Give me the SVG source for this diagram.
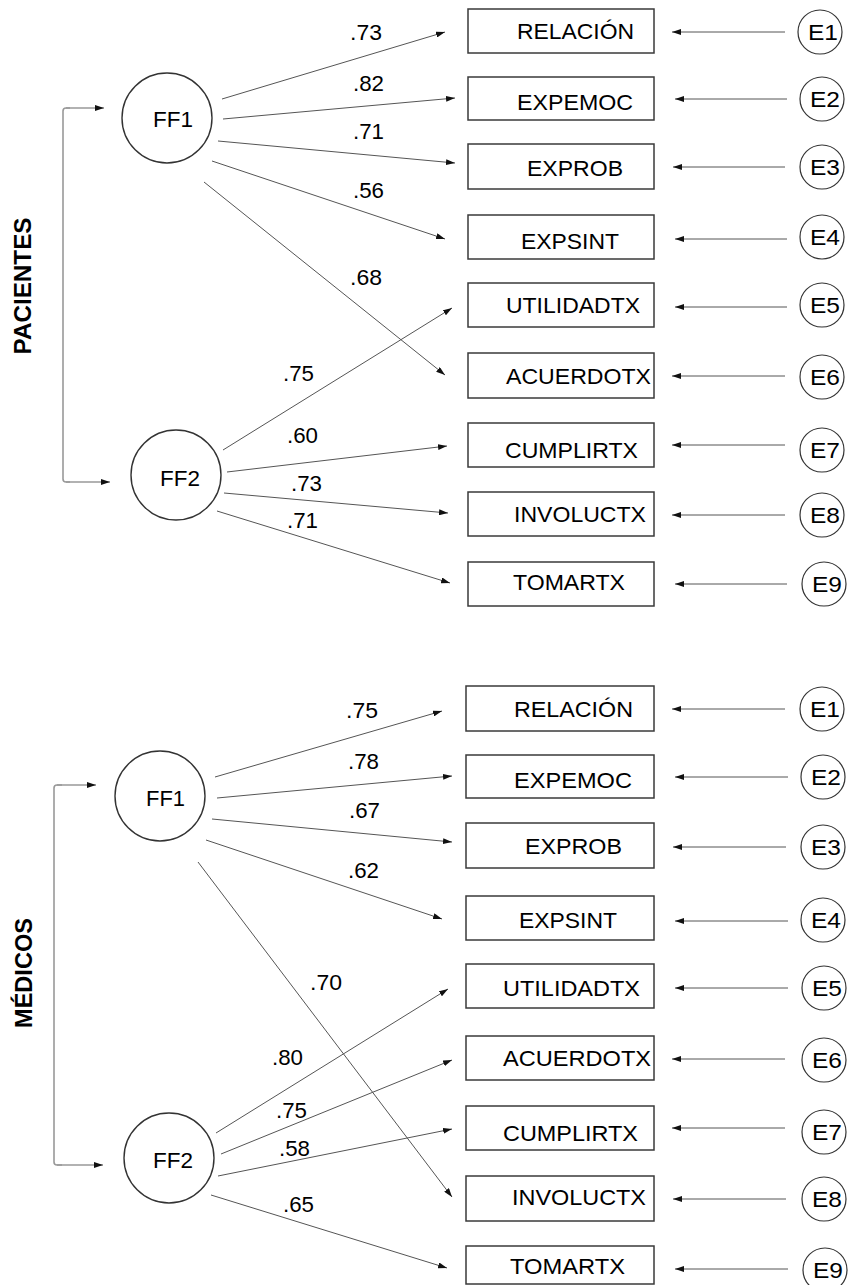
<svg xmlns="http://www.w3.org/2000/svg" width="848" height="1285" viewBox="0 0 848 1285">
<style>
  text { font-family: "Liberation Sans", Arial, sans-serif; fill: #000; }
  .box { fill: #fff; stroke: #3a3a3a; stroke-width: 1.5; }
  .lat { fill: #fff; stroke: #333; stroke-width: 1.4; }
  .err { fill: #fff; stroke: #333; stroke-width: 1.2; }
  .bt { font-size: 22px; }
  .ft { font-size: 22px; }
  .et { font-size: 22px; }
  .val { font-size: 22px; }
  .grp { font-size: 24px; font-weight: bold; text-anchor: middle; }
  .c { fill: none; stroke: #555; stroke-width: 1; marker-end: url(#ah); }
  .br { fill: none; stroke: #999; stroke-width: 1.6; }
  .bra { fill: none; stroke: #999; stroke-width: 1.6; marker-end: url(#ah); }
</style>
<defs>
  <marker id="ah" markerUnits="userSpaceOnUse" markerWidth="9" markerHeight="6" refX="9" refY="3" orient="auto">
    <path d="M0,0 L9,3 L0,6 z" fill="#111"/>
  </marker>
</defs>
<rect width="848" height="1285" fill="#fff"/>

<g id="connectors">
  <!-- PACIENTES bracket -->
  <path class="br" d="M63,300 L63,111 Q63,108 66,108 L70,108"/>
  <path class="bra" d="M66,108 L104,108"/>
  <path class="br" d="M63,300 L63,479 Q63,482 66,482 L70,482"/>
  <path class="bra" d="M66,482 L110,482"/>
  <!-- PACIENTES loadings -->
  <line class="c" x1="222" y1="99" x2="445" y2="32"/>
  <line class="c" x1="223" y1="119" x2="455" y2="98"/>
  <line class="c" x1="218" y1="141" x2="455" y2="163"/>
  <line class="c" x1="212" y1="161" x2="445" y2="239"/>
  <line class="c" x1="204" y1="182" x2="445" y2="375"/>
  <line class="c" x1="223" y1="450" x2="452" y2="308"/>
  <line class="c" x1="227" y1="472" x2="447" y2="446"/>
  <line class="c" x1="224" y1="493" x2="448" y2="513"/>
  <line class="c" x1="217" y1="511" x2="450" y2="583"/>
  <!-- PACIENTES errors -->
  <line class="c" x1="785" y1="32" x2="672" y2="32"/>
  <line class="c" x1="787" y1="99" x2="675" y2="99"/>
  <line class="c" x1="785" y1="167" x2="673" y2="167"/>
  <line class="c" x1="787" y1="239" x2="675" y2="239"/>
  <line class="c" x1="787" y1="307" x2="675" y2="307"/>
  <line class="c" x1="785" y1="376" x2="672" y2="376"/>
  <line class="c" x1="785" y1="445" x2="672" y2="445"/>
  <line class="c" x1="785" y1="515" x2="672" y2="515"/>
  <line class="c" x1="787" y1="584" x2="675" y2="584"/>

  <!-- MÉDICOS bracket -->
  <path class="br" d="M54,975 L54,788 Q54,785 57,785 L62,785"/>
  <path class="bra" d="M57,785 L96,785"/>
  <path class="br" d="M54,975 L54,1162 Q54,1165 57,1165 L62,1165"/>
  <path class="bra" d="M57,1165 L103,1165"/>
  <!-- MÉDICOS loadings -->
  <line class="c" x1="215" y1="777" x2="442" y2="711"/>
  <line class="c" x1="217" y1="798" x2="452" y2="776"/>
  <line class="c" x1="212" y1="819" x2="452" y2="842"/>
  <line class="c" x1="206" y1="840" x2="442" y2="919"/>
  <line class="c" x1="198" y1="862" x2="452" y2="1197"/>
  <line class="c" x1="216" y1="1133" x2="448" y2="989"/>
  <line class="c" x1="221" y1="1154" x2="452" y2="1060"/>
  <line class="c" x1="218" y1="1176" x2="452" y2="1129"/>
  <line class="c" x1="211" y1="1195" x2="447" y2="1268"/>
  <!-- MÉDICOS errors -->
  <line class="c" x1="785" y1="709" x2="672" y2="709"/>
  <line class="c" x1="788" y1="777" x2="675" y2="777"/>
  <line class="c" x1="786" y1="847" x2="673" y2="847"/>
  <line class="c" x1="788" y1="921" x2="675" y2="921"/>
  <line class="c" x1="788" y1="988" x2="675" y2="988"/>
  <line class="c" x1="785" y1="1059" x2="672" y2="1059"/>
  <line class="c" x1="785" y1="1128" x2="672" y2="1128"/>
  <line class="c" x1="786" y1="1199" x2="673" y2="1199"/>
  <line class="c" x1="788" y1="1269" x2="675" y2="1269"/>
</g>

<g id="labels">
  <text class="val" x="350" y="40" textLength="32" lengthAdjust="spacingAndGlyphs">.73</text>
  <text class="val" x="353" y="91" textLength="31" lengthAdjust="spacingAndGlyphs">.82</text>
  <text class="val" x="353" y="139" textLength="31" lengthAdjust="spacingAndGlyphs">.71</text>
  <text class="val" x="353" y="198" textLength="31" lengthAdjust="spacingAndGlyphs">.56</text>
  <text class="val" x="350" y="285" textLength="32" lengthAdjust="spacingAndGlyphs">.68</text>
  <text class="val" x="283" y="381" textLength="31" lengthAdjust="spacingAndGlyphs">.75</text>
  <text class="val" x="287" y="443" textLength="31" lengthAdjust="spacingAndGlyphs">.60</text>
  <text class="val" x="291" y="491" textLength="31" lengthAdjust="spacingAndGlyphs">.73</text>
  <text class="val" x="287" y="528" textLength="31" lengthAdjust="spacingAndGlyphs">.71</text>

  <text class="val" x="346" y="718" textLength="32" lengthAdjust="spacingAndGlyphs">.75</text>
  <text class="val" x="348" y="769" textLength="31" lengthAdjust="spacingAndGlyphs">.78</text>
  <text class="val" x="349" y="818" textLength="31" lengthAdjust="spacingAndGlyphs">.67</text>
  <text class="val" x="348" y="878" textLength="31" lengthAdjust="spacingAndGlyphs">.62</text>
  <text class="val" x="310" y="990" textLength="32" lengthAdjust="spacingAndGlyphs">.70</text>
  <text class="val" x="272" y="1065" textLength="31" lengthAdjust="spacingAndGlyphs">.80</text>
  <text class="val" x="276" y="1118" textLength="31" lengthAdjust="spacingAndGlyphs">.75</text>
  <text class="val" x="279" y="1156" textLength="31" lengthAdjust="spacingAndGlyphs">.58</text>
  <text class="val" x="283" y="1212" textLength="31" lengthAdjust="spacingAndGlyphs">.65</text>

  <text class="grp" transform="translate(31,286) rotate(-90)" textLength="137" lengthAdjust="spacingAndGlyphs">PACIENTES</text>
  <text class="grp" transform="translate(32,973) rotate(-90)" textLength="110" lengthAdjust="spacingAndGlyphs">MÉDICOS</text>
</g>

<!-- PACIENTES nodes -->
<g id="p-ff1"><circle class="lat" cx="167" cy="118" r="45"/><text class="ft" x="153" y="127" textLength="40" lengthAdjust="spacingAndGlyphs">FF1</text></g>
<g id="p-ff2"><circle class="lat" cx="176" cy="475" r="45"/><text class="ft" x="160" y="486" textLength="40" lengthAdjust="spacingAndGlyphs">FF2</text></g>

<g id="p-relacion"><rect class="box" x="468" y="9" width="186" height="44"/><text class="bt" x="517" y="39" textLength="117" lengthAdjust="spacingAndGlyphs">RELACIÓN</text></g>
<g id="p-expemoc"><rect class="box" x="468" y="77" width="186" height="43"/><text class="bt" x="517" y="110" textLength="116" lengthAdjust="spacingAndGlyphs">EXPEMOC</text></g>
<g id="p-exprob"><rect class="box" x="468" y="144" width="186" height="45"/><text class="bt" x="527" y="176" textLength="96" lengthAdjust="spacingAndGlyphs">EXPROB</text></g>
<g id="p-expsint"><rect class="box" x="468" y="215" width="186" height="44"/><text class="bt" x="521" y="249" textLength="98" lengthAdjust="spacingAndGlyphs">EXPSINT</text></g>
<g id="p-utilidadtx"><rect class="box" x="468" y="283" width="186" height="44"/><text class="bt" x="506" y="313" textLength="134" lengthAdjust="spacingAndGlyphs">UTILIDADTX</text></g>
<g id="p-acuerdotx"><rect class="box" x="468" y="353" width="186" height="45"/><text class="bt" x="506" y="384" textLength="145" lengthAdjust="spacingAndGlyphs">ACUERDOTX</text></g>
<g id="p-cumplirtx"><rect class="box" x="468" y="423" width="186" height="44"/><text class="bt" x="505" y="458" textLength="133" lengthAdjust="spacingAndGlyphs">CUMPLIRTX</text></g>
<g id="p-involuctx"><rect class="box" x="468" y="492" width="186" height="44"/><text class="bt" x="514" y="522" textLength="132" lengthAdjust="spacingAndGlyphs">INVOLUCTX</text></g>
<g id="p-tomartx"><rect class="box" x="468" y="562" width="186" height="44"/><text class="bt" x="513" y="590" textLength="112" lengthAdjust="spacingAndGlyphs">TOMARTX</text></g>

<g id="p-e1"><circle class="err" cx="820" cy="32" r="22"/><text class="et" x="808" y="40" textLength="30" lengthAdjust="spacingAndGlyphs">E1</text></g>
<g id="p-e2"><circle class="err" cx="822" cy="99" r="22"/><text class="et" x="810" y="107" textLength="30" lengthAdjust="spacingAndGlyphs">E2</text></g>
<g id="p-e3"><circle class="err" cx="822" cy="167" r="22"/><text class="et" x="810" y="175" textLength="30" lengthAdjust="spacingAndGlyphs">E3</text></g>
<g id="p-e4"><circle class="err" cx="822" cy="237" r="22"/><text class="et" x="810" y="245" textLength="30" lengthAdjust="spacingAndGlyphs">E4</text></g>
<g id="p-e5"><circle class="err" cx="822" cy="305" r="22"/><text class="et" x="810" y="313" textLength="30" lengthAdjust="spacingAndGlyphs">E5</text></g>
<g id="p-e6"><circle class="err" cx="822" cy="377" r="22"/><text class="et" x="810" y="385" textLength="30" lengthAdjust="spacingAndGlyphs">E6</text></g>
<g id="p-e7"><circle class="err" cx="822" cy="450" r="22"/><text class="et" x="810" y="458" textLength="30" lengthAdjust="spacingAndGlyphs">E7</text></g>
<g id="p-e8"><circle class="err" cx="822" cy="515" r="22"/><text class="et" x="810" y="523" textLength="30" lengthAdjust="spacingAndGlyphs">E8</text></g>
<g id="p-e9"><circle class="err" cx="824" cy="584" r="22"/><text class="et" x="812" y="592" textLength="30" lengthAdjust="spacingAndGlyphs">E9</text></g>

<!-- MÉDICOS nodes -->
<g id="m-ff1"><circle class="lat" cx="160" cy="796" r="45"/><text class="ft" x="146" y="806" textLength="39" lengthAdjust="spacingAndGlyphs">FF1</text></g>
<g id="m-ff2"><circle class="lat" cx="169" cy="1158" r="45"/><text class="ft" x="153" y="1168" textLength="40" lengthAdjust="spacingAndGlyphs">FF2</text></g>

<g id="m-relacion"><rect class="box" x="466" y="686" width="188" height="45"/><text class="bt" x="514" y="717" textLength="119" lengthAdjust="spacingAndGlyphs">RELACIÓN</text></g>
<g id="m-expemoc"><rect class="box" x="466" y="755" width="188" height="43"/><text class="bt" x="514" y="788" textLength="118" lengthAdjust="spacingAndGlyphs">EXPEMOC</text></g>
<g id="m-exprob"><rect class="box" x="466" y="823" width="188" height="45"/><text class="bt" x="525" y="854" textLength="97" lengthAdjust="spacingAndGlyphs">EXPROB</text></g>
<g id="m-expsint"><rect class="box" x="466" y="896" width="188" height="44"/><text class="bt" x="519" y="928" textLength="98" lengthAdjust="spacingAndGlyphs">EXPSINT</text></g>
<g id="m-utilidadtx"><rect class="box" x="466" y="964" width="188" height="44"/><text class="bt" x="503" y="996" textLength="137" lengthAdjust="spacingAndGlyphs">UTILIDADTX</text></g>
<g id="m-acuerdotx"><rect class="box" x="466" y="1036" width="188" height="44"/><text class="bt" x="503" y="1066" textLength="148" lengthAdjust="spacingAndGlyphs">ACUERDOTX</text></g>
<g id="m-cumplirtx"><rect class="box" x="466" y="1106" width="188" height="44"/><text class="bt" x="503" y="1141" textLength="135" lengthAdjust="spacingAndGlyphs">CUMPLIRTX</text></g>
<g id="m-involuctx"><rect class="box" x="466" y="1176" width="188" height="45"/><text class="bt" x="512" y="1205" textLength="134" lengthAdjust="spacingAndGlyphs">INVOLUCTX</text></g>
<g id="m-tomartx"><rect class="box" x="466" y="1246" width="188" height="38"/><text class="bt" x="510" y="1274" textLength="115" lengthAdjust="spacingAndGlyphs">TOMARTX</text></g>

<g id="m-e1"><circle class="err" cx="822" cy="709" r="22"/><text class="et" x="810" y="717" textLength="30" lengthAdjust="spacingAndGlyphs">E1</text></g>
<g id="m-e2"><circle class="err" cx="823" cy="777" r="22"/><text class="et" x="811" y="785" textLength="30" lengthAdjust="spacingAndGlyphs">E2</text></g>
<g id="m-e3"><circle class="err" cx="823" cy="847" r="22"/><text class="et" x="811" y="855" textLength="30" lengthAdjust="spacingAndGlyphs">E3</text></g>
<g id="m-e4"><circle class="err" cx="823" cy="920" r="22"/><text class="et" x="811" y="928" textLength="30" lengthAdjust="spacingAndGlyphs">E4</text></g>
<g id="m-e5"><circle class="err" cx="824" cy="988" r="22"/><text class="et" x="812" y="996" textLength="30" lengthAdjust="spacingAndGlyphs">E5</text></g>
<g id="m-e6"><circle class="err" cx="824" cy="1060" r="22"/><text class="et" x="812" y="1068" textLength="30" lengthAdjust="spacingAndGlyphs">E6</text></g>
<g id="m-e7"><circle class="err" cx="824" cy="1132" r="22"/><text class="et" x="812" y="1140" textLength="30" lengthAdjust="spacingAndGlyphs">E7</text></g>
<g id="m-e8"><circle class="err" cx="824" cy="1199" r="22"/><text class="et" x="812" y="1207" textLength="30" lengthAdjust="spacingAndGlyphs">E8</text></g>
<g id="m-e9"><circle class="err" cx="825" cy="1270" r="22"/><text class="et" x="813" y="1278" textLength="30" lengthAdjust="spacingAndGlyphs">E9</text></g>
</svg>
